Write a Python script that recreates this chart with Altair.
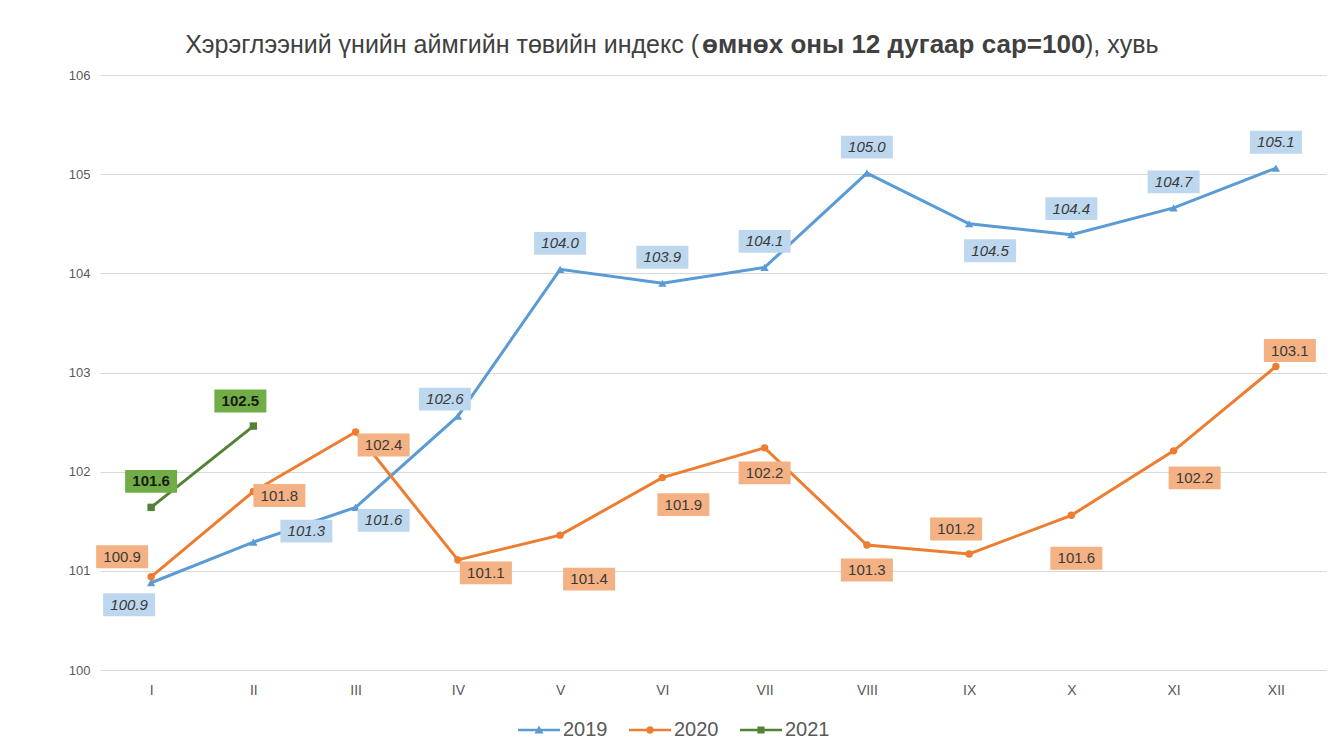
import altair as alt
import pandas as pd

# ---------------- data ----------------
MONTHS = ["I", "II", "III", "IV", "V", "VI", "VII", "VIII", "IX", "X", "XI", "XII"]
SERIES = ["2019", "2020", "2021"]
V2019 = [100.88, 101.29, 101.64, 102.56, 104.04, 103.90, 104.06, 105.01, 104.50, 104.39, 104.66, 105.06]
V2020 = [100.94, 101.80, 102.40, 101.11, 101.36, 101.94, 102.24, 101.26, 101.17, 101.56, 102.21, 103.06]
V2021 = [101.64, 102.46]
Y_TICKS = [100, 101, 102, 103, 104, 105, 106]

TITLE_1 = "Хэрэглээний үнийн аймгийн төвийн индекс ("
TITLE_BOLD = "өмнөх оны 12 дугаар сар=100"
TITLE_2 = "), хувь"

# label placement hints (where the value box sits relative to its point)
PLACE_2019 = ["below-left", "far-right", "below-right", "up-left", "above", "above",
              "above", "above", "low-right", "above", "above", "above"]
PLACE_2020 = ["left-up", "right", "below-right", "below-right", "far-below-right", "low-right",
              "below", "below", "above-left", "far-below", "low-right", "above-right"]
PLACE_2021 = ["above", "above-left"]

# ---------------- styling ----------------
OFFSETS = {
    "above": (0, -26), "below": (0, 25), "above-left": (-13, -25), "up-left": (-13, -17),
    "above-right": (14, -16), "below-left": (-22, 22), "below-right": (28, 13),
    "low-right": (21, 27), "right": (26, 4), "far-right": (53, -11), "left-up": (-29, -20),
    "far-below-right": (29, 44), "far-below": (5, 43),
}
LINE_COLORS = {"2019": "#5B9BD5", "2020": "#ED7D31", "2021": "#548235"}
BOX_COLORS = {"2019": "#BDD7EE", "2020": "#F4B183", "2021": "#70AD47"}
SHAPES = {"2019": ("triangle-up", 70), "2020": ("circle", 55), "2021": ("square", 55)}
TEXT_STYLE = {
    "2019": dict(fontStyle="italic", fontWeight="normal", color="#3A3A3A"),
    "2020": dict(fontStyle="normal", fontWeight="normal", color="#3A3A3A"),
    "2021": dict(fontStyle="normal", fontWeight="bold", color="#1A1A1A"),
}
FONT = "Liberation Sans"
GRAY = "#595959"

rows = []
for s, vals, places in [("2019", V2019, PLACE_2019), ("2020", V2020, PLACE_2020), ("2021", V2021, PLACE_2021)]:
    for m, v, p in zip(MONTHS, vals, places):
        rows.append(dict(series=s, month=m, value=v, label=f"{v:.1f}", place=p))
df = pd.DataFrame(rows)

x_enc = alt.X("month:O", sort=MONTHS,
              scale=alt.Scale(type="point", padding=0.5, domain=MONTHS),
              axis=alt.Axis(title=None, labelAngle=0, labelColor=GRAY, labelFontSize=14,
                            labelPadding=13, ticks=False, domain=False, labelFont=FONT))
y_enc = alt.Y("value:Q",
              scale=alt.Scale(domain=[100, 106], nice=False, zero=False),
              axis=alt.Axis(title=None, values=Y_TICKS, format="d", labelColor=GRAY,
                            labelFontSize=13, labelPadding=10, ticks=False, domain=False,
                            gridColor="#D9D9D9", gridWidth=1.2, labelFont=FONT))

base = alt.Chart(df)

lines, markers, boxes, texts = [], [], [], []
BOX_PATH = "M-1,-0.44L1,-0.44L1,0.44L-1,0.44Z"
for s in SERIES:
    sub = base.transform_filter(alt.datum.series == s)
    lines.append(sub.mark_line(strokeWidth=3, color=LINE_COLORS[s]).encode(x=x_enc, y=y_enc))
    markers.append(sub.mark_point(shape=SHAPES[s][0], size=SHAPES[s][1], filled=True, opacity=1,
                                  color=LINE_COLORS[s]).encode(x=x_enc, y=y_enc))
    used = list(dict.fromkeys(df.loc[df.series == s, "place"]))
    for code in used:
        dx, dy = OFFSETS[code]
        grp = base.transform_filter((alt.datum.series == s) & (alt.datum.place == code))
        boxes.append(grp.mark_point(shape=BOX_PATH, size=2704, filled=True, opacity=1, strokeWidth=0,
                                    color=BOX_COLORS[s], xOffset=dx, yOffset=dy)
                     .encode(x=x_enc, y=y_enc))
        texts.append(grp.mark_text(fontSize=15, font=FONT, align="center", baseline="middle",
                                   xOffset=dx, yOffset=dy, **TEXT_STYLE[s])
                     .encode(x=x_enc, y=y_enc, text="label:N"))

# legend (invisible clipped points only feed the legend)
LEGEND_PATHS = [
    "M-2.1,-0.13L2.1,-0.13L2.1,0.13L-2.1,0.13Z M0,-0.45L0.45,0.35L-0.45,0.35Z",
    "M-2.1,-0.13L2.1,-0.13L2.1,0.13L-2.1,0.13Z M0.38,0A0.38,0.38 0 1,1 -0.38,0A0.38,0.38 0 1,1 0.38,0Z",
    "M-2.1,-0.13L2.1,-0.13L2.1,0.13L-2.1,0.13Z M-0.36,-0.36L0.36,-0.36L0.36,0.36L-0.36,0.36Z",
]
leg = alt.Legend(title=None, orient="none", legendX=429, legendY=645, direction="horizontal",
                 symbolSize=400, symbolStrokeWidth=0, labelFontSize=20, labelColor=GRAY,
                 labelFont=FONT, labelOffset=14, columnPadding=21, padding=0)
legend_df = pd.DataFrame({"series": SERIES, "month": ["I"] * 3, "value": [90.0] * 3})
legend_layer = alt.Chart(legend_df).mark_point(filled=True, opacity=1, clip=True, size=10).encode(
    x=x_enc, y=y_enc,
    color=alt.Color("series:N", scale=alt.Scale(domain=SERIES, range=[LINE_COLORS[s] for s in SERIES]),
                    legend=leg),
    shape=alt.Shape("series:N", scale=alt.Scale(domain=SERIES, range=LEGEND_PATHS), legend=leg),
)

# title in three runs (plain / bold / plain)
def title_part(txt, x, align, weight, size):
    return alt.Chart(pd.DataFrame({"t": [txt]})).mark_text(
        align=align, baseline="middle", fontSize=size, font=FONT, fontWeight=weight, color="#404040"
    ).encode(x=alt.value(x), y=alt.value(-30), text="t:N")

title_layers = [
    title_part(TITLE_1, 599, "right", "normal", 25),
    title_part(TITLE_BOLD, 602, "left", "bold", 26),
    title_part(TITLE_2, 985, "left", "normal", 25),
]

chart = alt.layer(*lines, *markers, *boxes, *texts, legend_layer, *title_layers).properties(
    width=1227, height=595,
    autosize=alt.AutoSizeParams(type="none"),
    padding={"left": 92, "top": 67, "right": 0, "bottom": 73},
).configure(font=FONT, background="white").configure_view(stroke=None)

chart.save("out.html", embed_options={"renderer": "svg", "actions": False})
